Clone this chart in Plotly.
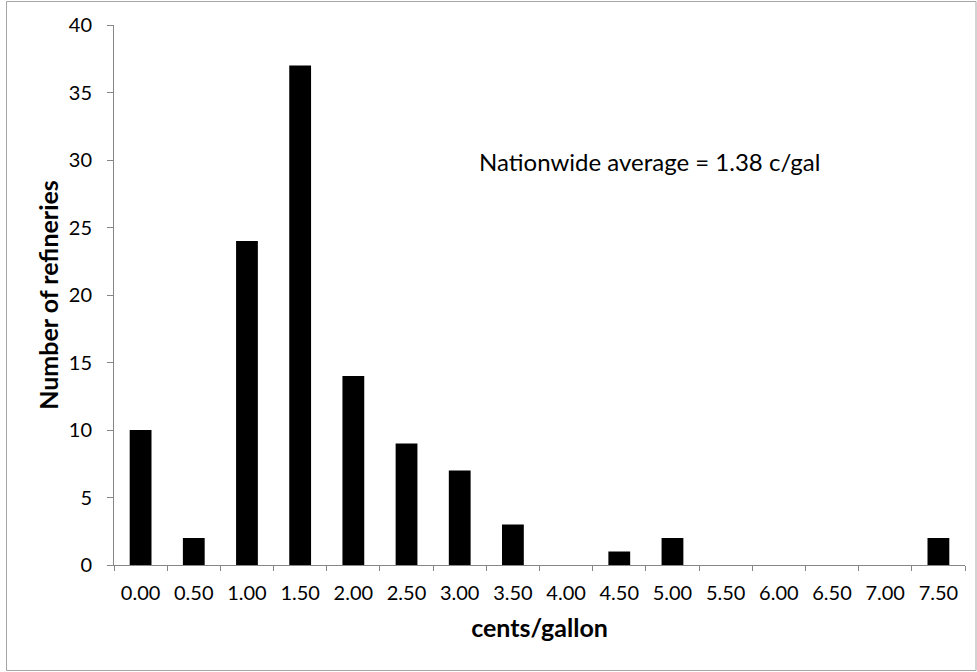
import plotly.graph_objects as go

# Distribution of refineries by cost (cents per gallon)
categories = ["0.00", "0.50", "1.00", "1.50", "2.00", "2.50", "3.00", "3.50",
              "4.00", "4.50", "5.00", "5.50", "6.00", "6.50", "7.00", "7.50"]
refineries = [10, 2, 24, 37, 14, 9, 7, 3, 0, 1, 2, 0, 0, 0, 0, 2]
y_ticks = [0, 5, 10, 15, 20, 25, 30, 35, 40]
note_text = "Nationwide average = 1.38 c/gal"

W, H = 977, 672
L, R, T, B = 114, 12, 25, 107
FONT = "Lato, Carlito, Calibri, sans-serif"
AXIS = "#868686"

fig = go.Figure(
    go.Bar(x=categories, y=refineries, marker=dict(color="black", line=dict(width=0)))
)

pw, ph = W - L - R, H - T - B


def px_x(p):
    return (p - L) / pw


def px_y(p):
    return (H - B - p) / ph


fig.update_layout(
    width=W, height=H,
    margin=dict(l=L, r=R, t=T, b=B),
    paper_bgcolor="white", plot_bgcolor="white",
    bargap=0.59,
    showlegend=False,
    font=dict(family=FONT, color="black", size=20),
    xaxis=dict(
        type="category",
        tickson="boundaries",
        ticks="outside", ticklen=5, tickcolor=AXIS,
        showline=True, linecolor=AXIS, linewidth=1,
        showgrid=False, zeroline=False,
        tickfont=dict(size=20),
        ticklabelstandoff=10,
        title=dict(text="<b>cents/gallon</b>", font=dict(size=25), standoff=16),
    ),
    yaxis=dict(
        range=[0, 40],
        tickvals=y_ticks,
        ticks="outside", ticklen=6, tickcolor=AXIS,
        showline=True, linecolor=AXIS, linewidth=1,
        showgrid=False, zeroline=False,
        tickfont=dict(size=20),
        ticklabelstandoff=11,
        title=dict(text="<b>Number of refineries</b>", font=dict(size=25), standoff=3),
    ),
    annotations=[dict(
        text=note_text, xref="paper", yref="paper",
        x=px_x(477), y=px_y(162), xanchor="left", yanchor="middle",
        showarrow=False, font=dict(size=24),
    )],
    shapes=[dict(
        type="rect", xref="paper", yref="paper",
        x0=px_x(6.5), x1=px_x(976), y0=px_y(670.5), y1=px_y(1.5),
        line=dict(color="#A6A6A6", width=1), fillcolor="rgba(0,0,0,0)",
        layer="below",
    )],
)

fig.write_html("out.html")
